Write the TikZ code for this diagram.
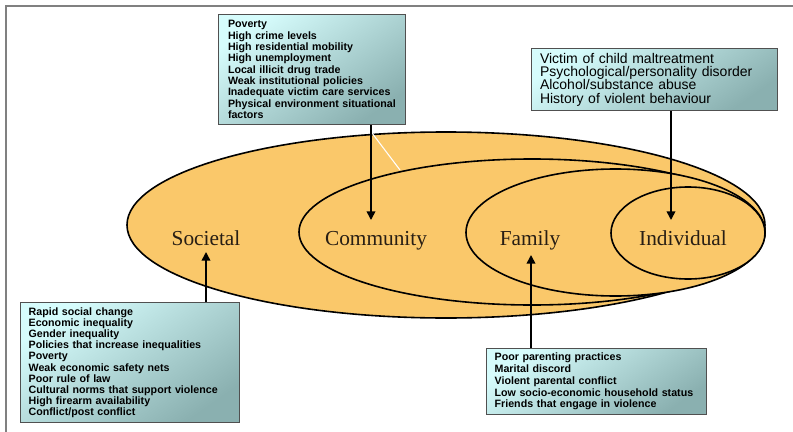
\documentclass[tikz,border=0pt]{standalone}
\usepackage{fontspec}
\setmainfont{Liberation Serif}
\newfontfamily\boxfont{Liberation Sans}
\newfontfamily\ringfont{Liberation Serif}
\usetikzlibrary{shapes.geometric,arrows.meta}
\definecolor{ringfill}{RGB}{250,200,106}
\definecolor{boxlight}{RGB}{214,252,252}
\definecolor{boxdark}{RGB}{138,176,176}
\definecolor{boxline}{RGB}{80,80,80}
\definecolor{framegray}{RGB}{128,128,128}
\definecolor{lbltext}{RGB}{40,30,20}
\begin{document}
\begin{tikzpicture}[x=0.75pt,y=-0.75pt,
  ring/.style={draw=black,line width=1.2pt,fill=ringfill,ellipse,inner sep=0pt,outer sep=0pt},
  lbl/.style={font=\ringfont\fontsize{16}{18}\selectfont,text=lbltext,inner sep=0pt,anchor=base},
  factorbox/.style={draw=boxline,line width=1pt,top color=boxlight,bottom color=boxdark,shading angle=35,
    anchor=north west,align=left,inner xsep=6pt,inner ysep=0pt,
    font=\boxfont\bfseries\fontsize{8}{8.5}\selectfont},
  arr/.style={line width=1.2pt,-{Triangle[length=6.5pt,width=6.5pt]}}]
\useasboundingbox (0,0) rectangle (793,432);
% frame
\draw[framegray,line width=1.5pt] (6,432) -- (6,6) -- (793,6);
% rings
\node[ring,minimum width=478.5pt,minimum height=139.5pt] (outer) at (446,225) {};
\node[ring,minimum width=349.5pt,minimum height=109.5pt] (comm) at (532,232) {};
\node[ring,minimum width=224.25pt,minimum height=95.25pt] (fam) at (615.5,232.5) {};
\node[ring,minimum width=115.5pt,minimum height=69pt] (indiv) at (688,233) {};
% white artefact line
\coordinate (w1) at (372,133);
\coordinate (w2) at (400,170);
\draw[white,line width=0.8pt] (w1) -- (w2);
% labels
\node[lbl] (soclbl) at (206,245) {Societal};
\node[lbl] (commlbl) at (376,245) {Community};
\node[lbl] (famlbl) at (530,245) {Family};
\node[lbl] (indlbl) at (683,245) {Individual};
% boxes
\node[factorbox,minimum width=138.75pt,minimum height=82.5pt,text width=126pt,inner xsep=7pt] (cbox) at (218,14)
 {Poverty\\High crime levels\\High residential mobility\\High unemployment\\Local illicit drug trade\\Weak institutional policies\\Inadequate victim care services\\Physical environment situational\\factors};
\node[factorbox,minimum width=184.5pt,minimum height=46.5pt,text width=172pt,
  font=\boxfont\fontsize{10.5}{10}\selectfont] (ibox) at (531,48)
 {Victim of child maltreatment\\Psychological/personality disorder\\Alcohol/substance abuse\\History of violent behaviour};
\node[factorbox,minimum width=162.75pt,minimum height=90pt,text width=152pt,
  font=\boxfont\bfseries\fontsize{8}{8.4}\selectfont] (sbox) at (20,302)
 {Rapid social change\\Economic inequality\\Gender inequality\\Policies that increase inequalities\\Poverty\\Weak economic safety nets\\Poor rule of law\\Cultural norms that support violence\\High firearm availability\\Conflict/post conflict};
\node[factorbox,minimum width=163.5pt,minimum height=49.5pt,text width=153pt,
  font=\boxfont\bfseries\fontsize{8}{8.8}\selectfont] (fbox) at (486,348)
 {Poor parenting practices\\Marital discord\\Violent parental conflict\\Low socio-economic household status\\Friends that engage in violence};
% arrows
\coordinate (ctip) at (371,220);
\coordinate (itip) at (671,220);
\coordinate (stip) at (206,252);
\coordinate (ftip) at (531,255);
\draw[arr] (cbox.south -| ctip) -- (ctip);
\draw[arr] (ibox.south -| itip) -- (itip);
\draw[arr] (sbox.north -| stip) -- (stip);
\draw[arr] (fbox.north -| ftip) -- (ftip);
\end{tikzpicture}
\end{document}
